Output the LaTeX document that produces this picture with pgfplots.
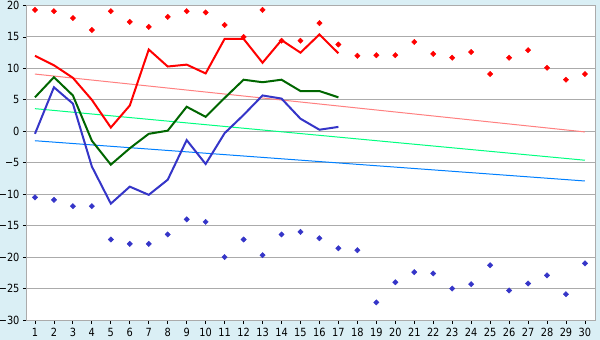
\documentclass[border=0pt]{standalone}
\usepackage{pgfplots}
\pgfplotsset{compat=1.18}
\usepackage{fontspec}
\setmainfont{DejaVu Sans}[FakeStretch=0.87]
\definecolor{bgblue}{HTML}{DAEFF5}
\definecolor{gridgray}{HTML}{ABABAB}
\definecolor{lred}{HTML}{FF0000}
\definecolor{lgreen}{HTML}{006600}
\definecolor{lblue}{HTML}{3535C8}
\definecolor{tpink}{HTML}{FF8080}
\definecolor{tgreen}{HTML}{00FF80}
\definecolor{tblue}{HTML}{0080FF}
\begin{document}
\begin{tikzpicture}
\fill[bgblue] (0,0) rectangle (600bp,340bp);
\begin{axis}[
  at={(27bp,20bp)}, anchor=south west,
  scale only axis, width=568bp, height=314.5bp,
  xmin=0.58, xmax=30.53, ymin=-30, ymax=20,
  axis background/.style={fill=white},
  axis line style={gridgray, line width=1bp},
  xtick={1,...,30},
  ytick={-30,-25,...,20},
  yticklabels={−30,−25,−20,−15,−10,−5,0,5,10,15,20},
  ymajorgrids, grid style={gridgray, line width=1bp},
  tick style={black, line width=0.8bp},
  xtick pos=bottom, ytick pos=left,
  tick align=outside,
  major tick length=4bp,
  ticklabel style={font=\fontsize{11.3}{13}\selectfont},
  /pgf/number format/assume math mode=true,
  xticklabel style={yshift=-1bp},
  yticklabel style={xshift=0bp},
  clip=false,
]
% trend lines
\addplot[tpink, line width=1bp] coordinates {(1,9.1) (30,-0.1)};
\addplot[tgreen, line width=1bp] coordinates {(1,3.6) (30,-4.6)};
\addplot[tblue, line width=1bp] coordinates {(1,-1.5) (30,-7.9)};
% lines
\addplot[lred, line width=2bp] coordinates {
(1,12.0) (2,10.5) (3,8.5) (4,5.0) (5,0.6) (6,4.1) (7,13.0) (8,10.3) (9,10.6)
(10,9.2) (11,14.7) (12,14.7) (13,10.9) (14,14.5) (15,12.5) (16,15.4) (17,12.4)};
\addplot[lgreen, line width=2bp] coordinates {
(1,5.4) (2,8.6) (3,5.7) (4,-1.5) (5,-5.3) (6,-2.7) (7,-0.4) (8,0.1) (9,3.9)
(10,2.3) (11,5.3) (12,8.2) (13,7.8) (14,8.2) (15,6.4) (16,6.4) (17,5.4)};
\addplot[lblue, line width=2bp] coordinates {
(1,-0.4) (2,7.0) (3,4.4) (4,-5.6) (5,-11.5) (6,-8.8) (7,-10.1) (8,-7.7) (9,-1.4)
(10,-5.2) (11,-0.3) (12,2.6) (13,5.7) (14,5.2) (15,2.0) (16,0.25) (17,0.7)};
% scatter maxima
\addplot[only marks, mark=square*, mark size=1.9bp, mark options={rotate=45}, color=lred] coordinates {
(1,19.3) (2,19.1) (3,18.0) (4,16.1) (5,19.1) (6,17.4) (7,16.6) (8,18.2) (9,19.1)
(10,18.9) (11,16.9) (12,15.0) (13,19.3) (14,14.4) (15,14.4) (16,17.2) (17,13.8)
(18,12.0) (19,12.1) (20,12.1) (21,14.2) (22,12.3) (23,11.7) (24,12.6) (25,9.1)
(26,11.7) (27,12.9) (28,10.1) (29,8.2) (30,9.1)};
% scatter minima
\addplot[only marks, mark=square*, mark size=1.9bp, mark options={rotate=45}, color=lblue] coordinates {
(1,-10.5) (2,-10.9) (3,-11.9) (4,-11.9) (5,-17.2) (6,-17.9) (7,-17.9) (8,-16.4) (9,-14.0)
(10,-14.4) (11,-20.0) (12,-17.2) (13,-19.7) (14,-16.4) (15,-16.0) (16,-17.0) (17,-18.6)
(18,-18.9) (19,-27.2) (20,-24.0) (21,-22.4) (22,-22.6) (23,-25.0) (24,-24.3) (25,-21.3)
(26,-25.3) (27,-24.2) (28,-22.9) (29,-25.9) (30,-21.0)};
\end{axis}
\pgfresetboundingbox
\useasboundingbox (0,0) rectangle (600bp,340bp);
\end{tikzpicture}
\end{document}
